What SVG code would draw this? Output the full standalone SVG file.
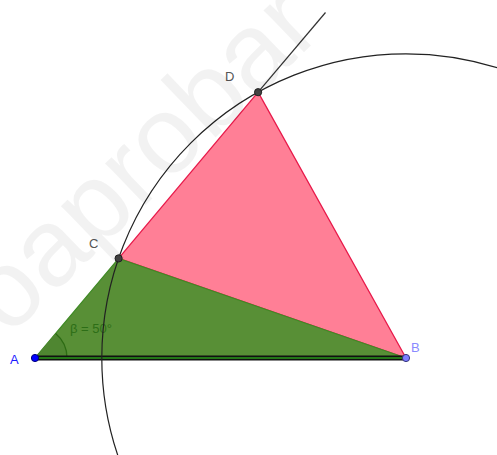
<svg xmlns="http://www.w3.org/2000/svg" width="497" height="455" viewBox="0 0 497 455">
<style>
.lbl{font-family:"Liberation Sans",Arial,sans-serif;font-size:13px}
.pt{stroke-width:1}
.wm{font-family:"Liberation Sans",Arial,sans-serif;font-size:110px;fill:#000;fill-opacity:0.05}
</style>
<rect width="497" height="455" fill="#fff"/>
<g id="triangle-BCD">
<polygon points="118.6,258.4 258.1,92.2 406,358" fill="#ff7f96" stroke="#e8194a" stroke-width="1.3"/>
</g>
<g id="triangle-ABC">
<polygon points="35,358 406,358 118.6,258.4" fill="#588f36" stroke="#3f8a25" stroke-width="1.3"/>
<path d="M35,358 L67,358 A32,32 0 0 0 55.6,333.5 Z" fill="#4f8631" stroke="none"/>
<path d="M67,358 A32,32 0 0 0 55.6,333.5" fill="none" stroke="#2d6b14" stroke-width="1.3"/>
<text class="lbl" x="70" y="333" fill="#2d6e17">β = 50°</text>
</g>
<g id="segment-AB">
<line x1="35" y1="358" x2="406" y2="358" stroke="#111" stroke-width="5"/>
<line x1="35" y1="358" x2="406" y2="358" stroke="#2a9a1a" stroke-width="1.6"/>
</g>
<g id="connectors" fill="none">
<circle cx="406" cy="358" r="304.2" stroke="#222" stroke-width="1.2"/>
<line x1="258.1" y1="92.2" x2="325.5" y2="12.5" stroke="#333" stroke-width="1.2"/>
</g>
<g id="node-A">
<circle class="pt" cx="35" cy="358" r="3.6" fill="#0000ff" stroke="#00007a"/>
<text class="lbl" x="10" y="364" fill="#1a1aff">A</text>
</g>
<g id="node-B">
<circle class="pt" cx="406" cy="358" r="3.6" fill="#7d7dff" stroke="#33337a"/>
<text class="lbl" x="411" y="352" fill="#8a8aff">B</text>
</g>
<g id="node-C">
<circle class="pt" cx="118.6" cy="258.4" r="3.6" fill="#444" stroke="#222"/>
<text class="lbl" x="89" y="248" fill="#555">C</text>
</g>
<g id="node-D">
<circle class="pt" cx="258.1" cy="92.2" r="3.6" fill="#444" stroke="#222"/>
<text class="lbl" x="225" y="81" fill="#555">D</text>
</g>
<text class="wm" transform="translate(8,338) rotate(-44)">oaprobar</text>
</svg>
